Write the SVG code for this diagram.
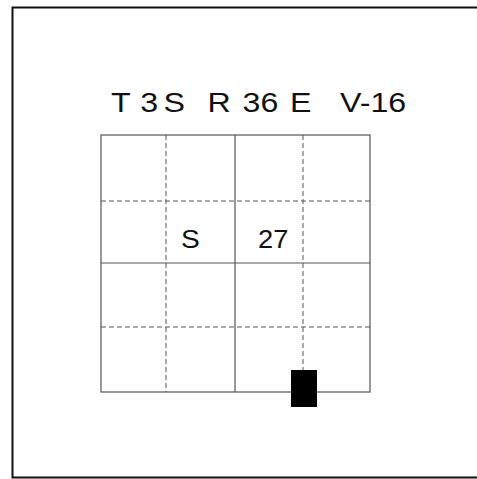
<svg xmlns="http://www.w3.org/2000/svg" width="477" height="479" viewBox="0 0 477 479">
<style>
.t{font-family:"Liberation Sans",Arial,sans-serif;font-size:28px;fill:#111}
.l{font-family:"Liberation Sans",Arial,sans-serif;font-size:26px;fill:#111}
.s{stroke:#555;stroke-width:1.2;fill:none}
.d{stroke:#555;stroke-width:1;fill:none;stroke-dasharray:5,3}
</style>
<rect width="477" height="479" fill="#fff"/>
<path d="M480,7.5 H12.5 V477.5 H480" fill="none" stroke="#111" stroke-width="2"/>
<g id="title">
<text class="t" transform="translate(111,111.5) scale(1.15,1)">T</text>
<text class="t" transform="translate(140.3,111.5) scale(1.15,1)">3</text>
<text class="t" transform="translate(163.5,111.5) scale(1.15,1)">S</text>
<text class="t" transform="translate(207.5,111.5) scale(1.15,1)">R</text>
<text class="t" transform="translate(242.5,111.5) scale(1.15,1)">36</text>
<text class="t" transform="translate(290,111.5) scale(1.15,1)">E</text>
<text class="t" transform="translate(340,111.5) scale(1.15,1)">V-16</text>
</g>
<g id="grid">
<rect class="s" x="101" y="135" width="269" height="257"/>
<line class="s" x1="235" y1="135" x2="235" y2="392"/>
<line class="s" x1="101" y1="263" x2="370" y2="263"/>
<line class="d" x1="166" y1="135" x2="166" y2="392"/>
<line class="d" x1="303" y1="135" x2="303" y2="392"/>
<line class="d" x1="101" y1="201" x2="370" y2="201"/>
<line class="d" x1="101" y1="327" x2="370" y2="327"/>
</g>
<g id="labels">
<text class="l" transform="translate(181,247.5) scale(1.08,1)">S</text>
<text class="l" transform="translate(258,247.5) scale(1.05,1)">27</text>
</g>
<g id="marker">
<rect x="291" y="370" width="26" height="37" fill="#000"/>
</g>
</svg>
